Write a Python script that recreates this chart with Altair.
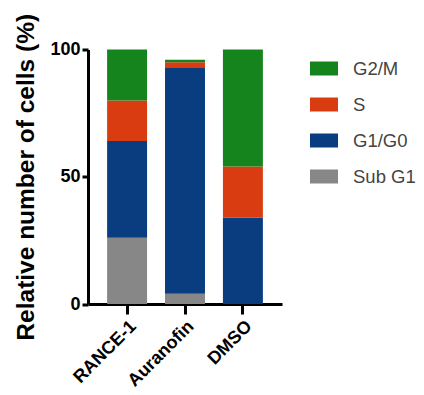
import altair as alt
import pandas as pd

groups = ["RANCE-1", "Auranofin", "DMSO"]
phases = ["Sub G1", "G1/G0", "S", "G2/M"]
sub_g1 = [26, 4, 0]
g1_g0 = [38, 89, 34]
s_phase = [16, 2, 20]
g2_m = [20, 1, 46]

legend_order = ["G2/M", "S", "G1/G0", "Sub G1"]
colors = ["#16841c", "#d83c10", "#0a3c80", "#878787"]

series = {"Sub G1": sub_g1, "G1/G0": g1_g0, "S": s_phase, "G2/M": g2_m}
rows = []
for pi, ph in enumerate(phases):
    for gi, g in enumerate(groups):
        rows.append({"group": g, "phase": ph, "value": series[ph][gi], "ord": pi})
df = pd.DataFrame(rows)

FONT = "Liberation Sans"

chart = alt.Chart(df).mark_bar().encode(
    x=alt.X("group:N", sort=groups, title=None,
            scale=alt.Scale(paddingInner=0.31, paddingOuter=0.33),
            axis=alt.Axis(labelAngle=-45, labelFont=FONT, labelFontSize=18,
                          labelFontWeight="bold", labelColor="black",
                          domainColor="black", domainWidth=3, tickColor="black",
                          tickWidth=3, tickSize=10, labelPadding=3)),
    y=alt.Y("value:Q", stack="zero", title="Relative number of cells (%)",
            scale=alt.Scale(domain=[0, 100], nice=False),
            axis=alt.Axis(values=[0, 50, 100], grid=False, labelFont=FONT,
                          labelFontSize=18, labelFontWeight="bold", labelColor="black",
                          domainColor="black", domainWidth=3, tickColor="black",
                          tickWidth=3, tickSize=6, labelPadding=2,
                          titleFont=FONT, titleFontSize=24.5, titleFontWeight="bold",
                          titleColor="black", titlePadding=11)),
    color=alt.Color("phase:N",
                    scale=alt.Scale(domain=legend_order, range=colors),
                    legend=alt.Legend(title=None, orient="none", legendX=222, legendY=5,
                                      symbolType="M-1,-0.5H1V0.5H-1Z", symbolSize=784,
                                      symbolStrokeWidth=0, symbolOpacity=1,
                                      labelFont=FONT, labelFontSize=18.5, labelColor="#444444",
                                      labelOffset=15, rowPadding=12, padding=0)),
    order=alt.Order("ord:Q", sort="ascending"),
).properties(
    width=194, height=254.5, autosize="none",
    padding={"left": 80, "top": 41.5, "right": 134, "bottom": 90},
).configure_view(stroke=None)

chart.save("out.html", embed_options={"renderer": "svg", "actions": False})
